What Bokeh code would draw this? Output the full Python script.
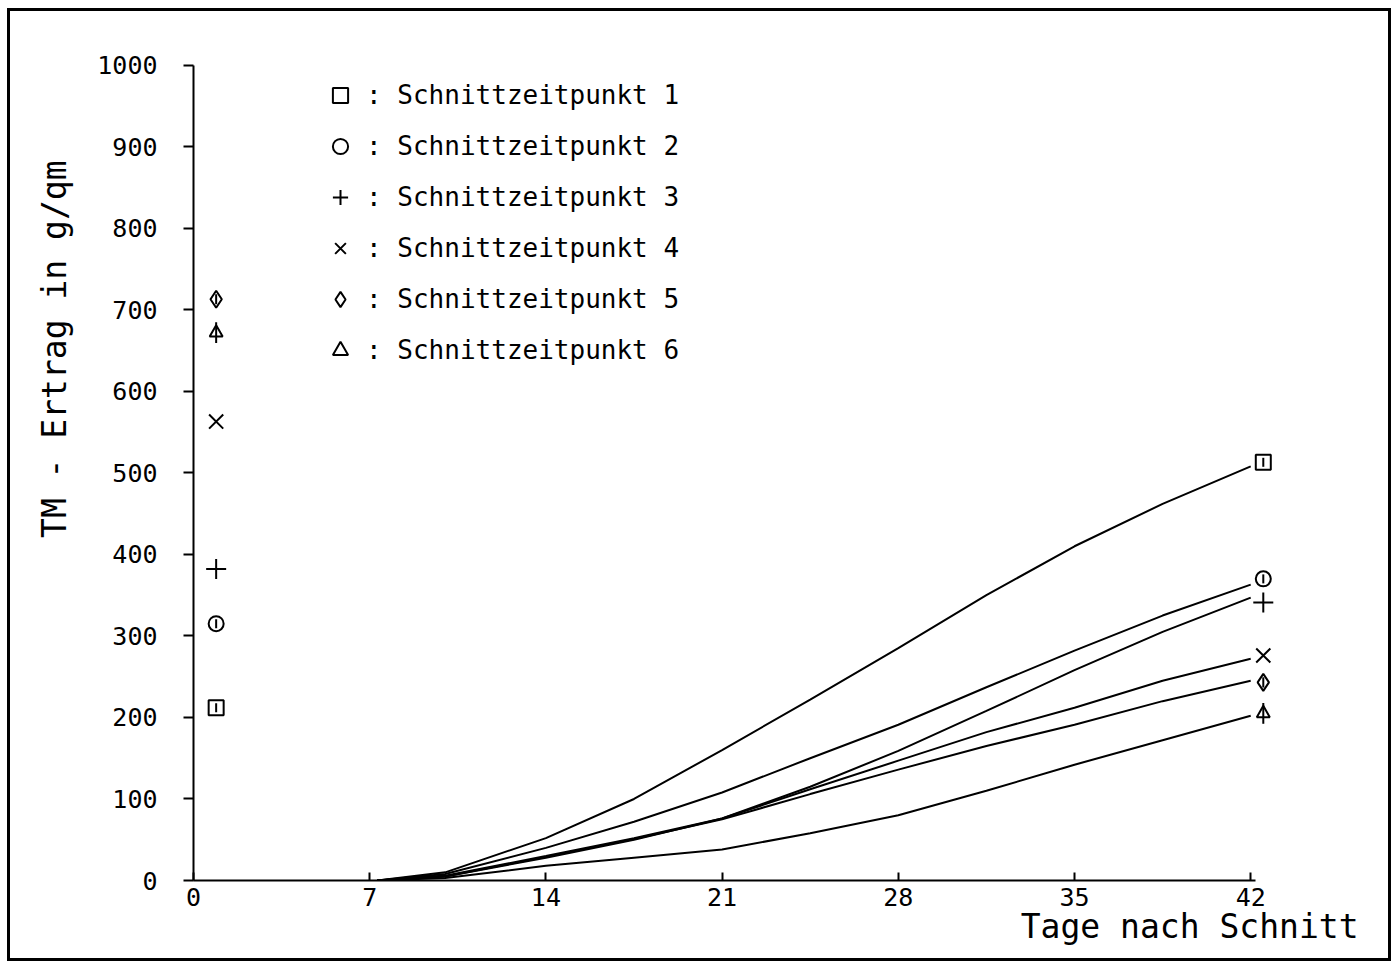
import math
from bokeh.plotting import figure
from bokeh.models import Range1d, FixedTicker, Legend, LegendItem, Title
from bokeh.embed import file_html
from bokeh.resources import INLINE

# ---------------- data ----------------
days = [7.3, 10, 14, 17.5, 21, 24.5, 28, 31.5, 35, 38.5, 42]
curve_1 = [0, 10, 52, 100, 160, 222, 285, 350, 410, 462, 508]
curve_2 = [0, 8, 40, 72, 108, 150, 191, 237, 282, 325, 363]
curve_3 = [0, 5, 28, 50, 76, 115, 159, 208, 258, 305, 347]
curve_4 = [0, 6, 30, 52, 76, 112, 147, 182, 212, 245, 272]
curve_5 = [0, 5, 29, 51, 75, 106, 136, 165, 191, 220, 245]
curve_6 = [0, 3, 18, 28, 38, 58, 80, 110, 142, 172, 202]
curves = [curve_1, curve_2, curve_3, curve_4, curve_5, curve_6]

marker_days = [0.9, 42.5]          # measured points: before and at 42 days
start_values = [212, 315, 382, 563, 713, 672]
end_values = [513, 370, 341, 276, 243, 205]

series_labels = [": Schnittzeitpunkt 1", ": Schnittzeitpunkt 2", ": Schnittzeitpunkt 3",
                 ": Schnittzeitpunkt 4", ": Schnittzeitpunkt 5", ": Schnittzeitpunkt 6"]
x_ticks = [0, 7, 14, 21, 28, 35, 42]
y_ticks = [0, 100, 200, 300, 400, 500, 600, 700, 800, 900, 1000]
x_title = "Tage nach Schnitt"
y_title = "TM - Ertrag in g/qm"

# ---------------- layout ----------------
FONT = "DejaVu Sans Mono"
W, H = 1378, 947          # canvas inside the drawn frame
LEFT, TOP = 183, 44
FW, FH = 1137, 825
X_END, Y_END = 45.17, 1012

p = figure(frame_width=FW, frame_height=FH,
           min_border_left=LEFT, min_border_right=W - LEFT - FW,
           min_border_top=TOP, min_border_bottom=H - TOP - FH,
           x_range=Range1d(0, X_END), y_range=Range1d(0, Y_END),
           output_backend="svg", toolbar_location=None)
p.grid.visible = False
p.outline_line_color = None
p.background_fill_color = "white"
p.border_fill_color = "white"
p.styles = {"border": "3px solid black", "margin-left": "7px", "margin-top": "8px"}

# axes
xa = p.xaxis[0]
xa.ticker = FixedTicker(ticks=x_ticks)
xa.bounds = (0, 42.2)
xa.axis_line_width = 2
xa.axis_line_color = "black"
xa.major_tick_in = 8
xa.major_tick_out = 0
xa.major_tick_line_width = 2
xa.minor_tick_line_color = None
xa.major_label_text_font = FONT
xa.major_label_text_font_size = "25px"
xa.major_label_text_color = "black"
xa.major_label_standoff = 7

ya = p.yaxis[0]
ya.ticker = FixedTicker(ticks=y_ticks)
ya.bounds = (0, 1000)
ya.axis_line_width = 2
ya.axis_line_color = "black"
ya.major_tick_in = 0
ya.major_tick_out = 10
ya.major_tick_line_width = 2
ya.minor_tick_line_color = None
ya.major_label_text_font = FONT
ya.major_label_text_font_size = "25px"
ya.major_label_text_color = "black"
ya.major_label_standoff = 26

# curves
for c in curves:
    p.line(days, c, line_color="black", line_width=2)

# markers
marker_specs = [
    ("square", True), ("circle", True), ("cross", False),
    ("x", False), ("diamond", True), ("triangle", True),
]
sizes = [15, 15, 20, 20, 17, 13]
items = []
for i, (mk, stem) in enumerate(marker_specs):
    ys = [start_values[i], end_values[i]]
    r = p.scatter(marker_days, ys, marker=mk, size=sizes[i], fill_color=None,
                  line_color="black", line_width=2)
    if stem:
        p.scatter(marker_days, ys, marker="dash", angle=math.pi / 2,
                  size=sizes[i] * (1.6 if mk == "triangle" else 0.6),
                  line_color="black", line_width=2)
    items.append(LegendItem(label=series_labels[i], renderers=[r]))

legend = Legend(items=items, location=(128, 511),
                glyph_width=38, glyph_height=38, label_height=38, spacing=13,
                label_standoff=7, padding=0, margin=0,
                label_text_font=FONT, label_text_font_size="26px",
                label_text_color="black",
                background_fill_alpha=0, border_line_alpha=0)
p.add_layout(legend)

# axis titles
p.add_layout(Title(text=y_title, align="right", offset=105, standoff=41,
                   text_font=FONT, text_font_size="33px", text_font_style="normal",
                   text_color="black"), "left")
p.add_layout(Title(text=x_title, align="right", offset=-28, standoff=-8,
                   text_font=FONT, text_font_size="33px", text_font_style="normal",
                   text_color="black"), "below")

open("out.html", "w").write(file_html(p, INLINE))
